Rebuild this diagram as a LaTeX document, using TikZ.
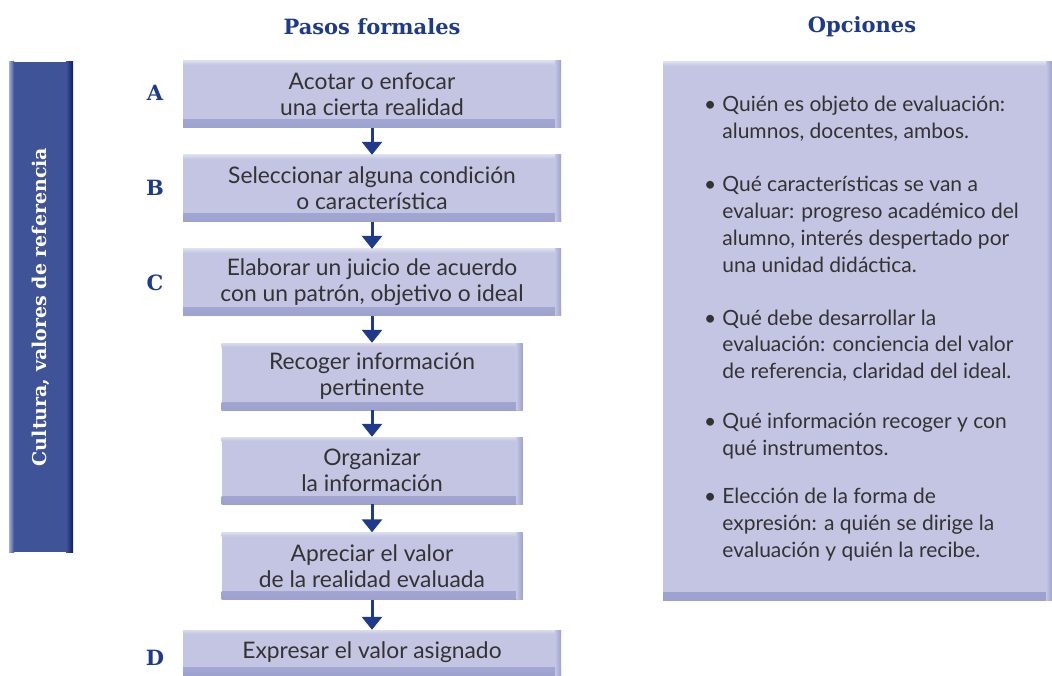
\documentclass[tikz,border=0pt]{standalone}
\usepackage{fontspec}
\setmainfont{Lato}
\newfontfamily\titfont{DejaVu Serif}
\usetikzlibrary{arrows.meta}

\definecolor{azul}{HTML}{1E3A8C}
\definecolor{cajafondo}{HTML}{C3C5E2}
\definecolor{cajaborde}{HTML}{9DA1CF}
\definecolor{cajaluz}{HTML}{DADCEE}
\definecolor{barra}{HTML}{3F5399}
\definecolor{barraosc}{HTML}{0E1E5E}
\definecolor{barraluz}{HTML}{A3ADD4}
\definecolor{texto}{HTML}{333333}

\tikzset{
  marco/.style={fill=cajafondo, inner sep=0pt,
    path picture={
      \shade[top color=cajafondo, bottom color=cajaborde]
        ([yshift=8pt]path picture bounding box.south west) rectangle (path picture bounding box.south east);
      \shade[top color=cajaluz, bottom color=cajafondo]
        (path picture bounding box.north west) rectangle ([yshift=-4pt]path picture bounding box.north east);
      \shade[left color=cajafondo, right color=cajaborde]
        ([xshift=-6pt]path picture bounding box.south east) rectangle (path picture bounding box.north east);
    }},
  paso/.style={marco, minimum width=378pt, minimum height=67pt, align=center,
    text=texto, font=\fontsize{22.8}{26}\selectfont},
  pasocorto/.style={paso, minimum width=301pt},
  letra/.style={font=\titfont\bfseries\fontsize{21}{24}\selectfont, text=azul},
  titulo/.style={font=\titfont\bfseries\fontsize{21}{24}\selectfont, text=azul},
  flecha/.style={draw=azul, line width=3pt, -{Triangle[width=20pt,length=13pt]}},
  opcion/.style={anchor=base west, inner sep=0pt, text=texto, font=\fontsize{21}{27}\selectfont},
}

\newcommand{\viñeta}[1]{\begin{tabular}[t]{@{}l@{\hspace{6pt}}l@{}}\textbullet & #1\end{tabular}}

\begin{document}
\begin{tikzpicture}[x=1pt, y=-1pt]
  \useasboundingbox (0,0) rectangle (1052,676);

  % Titulos
  \node[titulo] (tpasos) at (372,27) {Pasos formales};
  \node[titulo] (topc) at (862,27) {Opciones};

  % Barra lateral
  \fill[barra] (9,62) rectangle (73,552);
  \shade[left color=barraluz, right color=barra] (9,62) rectangle (14,552);
  \shade[left color=barra, right color=barraosc] (66,62) rectangle (73,552);
  \node[rotate=90, text=white, font=\titfont\bfseries\fontsize{19}{22}\selectfont] (cultura) at (41,307)
    {Cultura, valores de referencia};

  % Pasos
  \node[paso] (pasoA) at (372,94.5) {Acotar o enfocar\\una cierta realidad};
  \node[paso] (pasoB) at (372,188.5) {Seleccionar alguna condición\\o característica};
  \node[paso] (pasoC) at (372,282.5) {Elaborar un juicio de acuerdo\\con un patrón, objetivo o ideal};
  \node[pasocorto] (recoger) at (372,376.5) {Recoger información\\pertinente};
  \node[pasocorto] (organizar) at (372,470.5) {Organizar\\la información};
  \node[pasocorto] (apreciar) at (372,566) {Apreciar el valor\\de la realidad evaluada};
  \node[paso, minimum height=45pt] (pasoD) at (372,652.5) {Expresar el valor asignado};

  % Letras
  \node[letra] (letA) at (155,93) {A};
  \node[letra] (letB) at (155,188) {B};
  \node[letra] (letC) at (155,283) {C};
  \node[letra] (letD) at (155,658) {D};

  % Flechas
  \draw[flecha] (pasoA) -- (pasoB);
  \draw[flecha] (pasoB) -- (pasoC);
  \draw[flecha] (pasoC) -- (recoger);
  \draw[flecha] (recoger) -- (organizar);
  \draw[flecha] (organizar) -- (apreciar);
  \draw[flecha] (apreciar) -- (pasoD);

  % Opciones
  \node[marco, minimum width=389pt, minimum height=538pt] (opciones) at (857.5,331) {};
  \node[opcion] (opc1) at (704,112) {\viñeta{Quién es objeto de evaluación:\\ & alumnos, docentes, ambos.}};
  \node[opcion] (opc2) at (704,192) {\viñeta{Qué características se van a\\ & evaluar: progreso académico del\\ & alumno, interés despertado por\\ & una unidad didáctica.}};
  \node[opcion] (opc3) at (704,325) {\viñeta{Qué debe desarrollar la\\ & evaluación: conciencia del valor\\ & de referencia, claridad del ideal.}};
  \node[opcion] (opc4) at (704,428) {\viñeta{Qué información recoger y con\\ & qué instrumentos.}};
  \node[opcion] (opc5) at (704,503) {\viñeta{Elección de la forma de\\ & expresión: a quién se dirige la\\ & evaluación y quién la recibe.}};
\end{tikzpicture}
\end{document}
